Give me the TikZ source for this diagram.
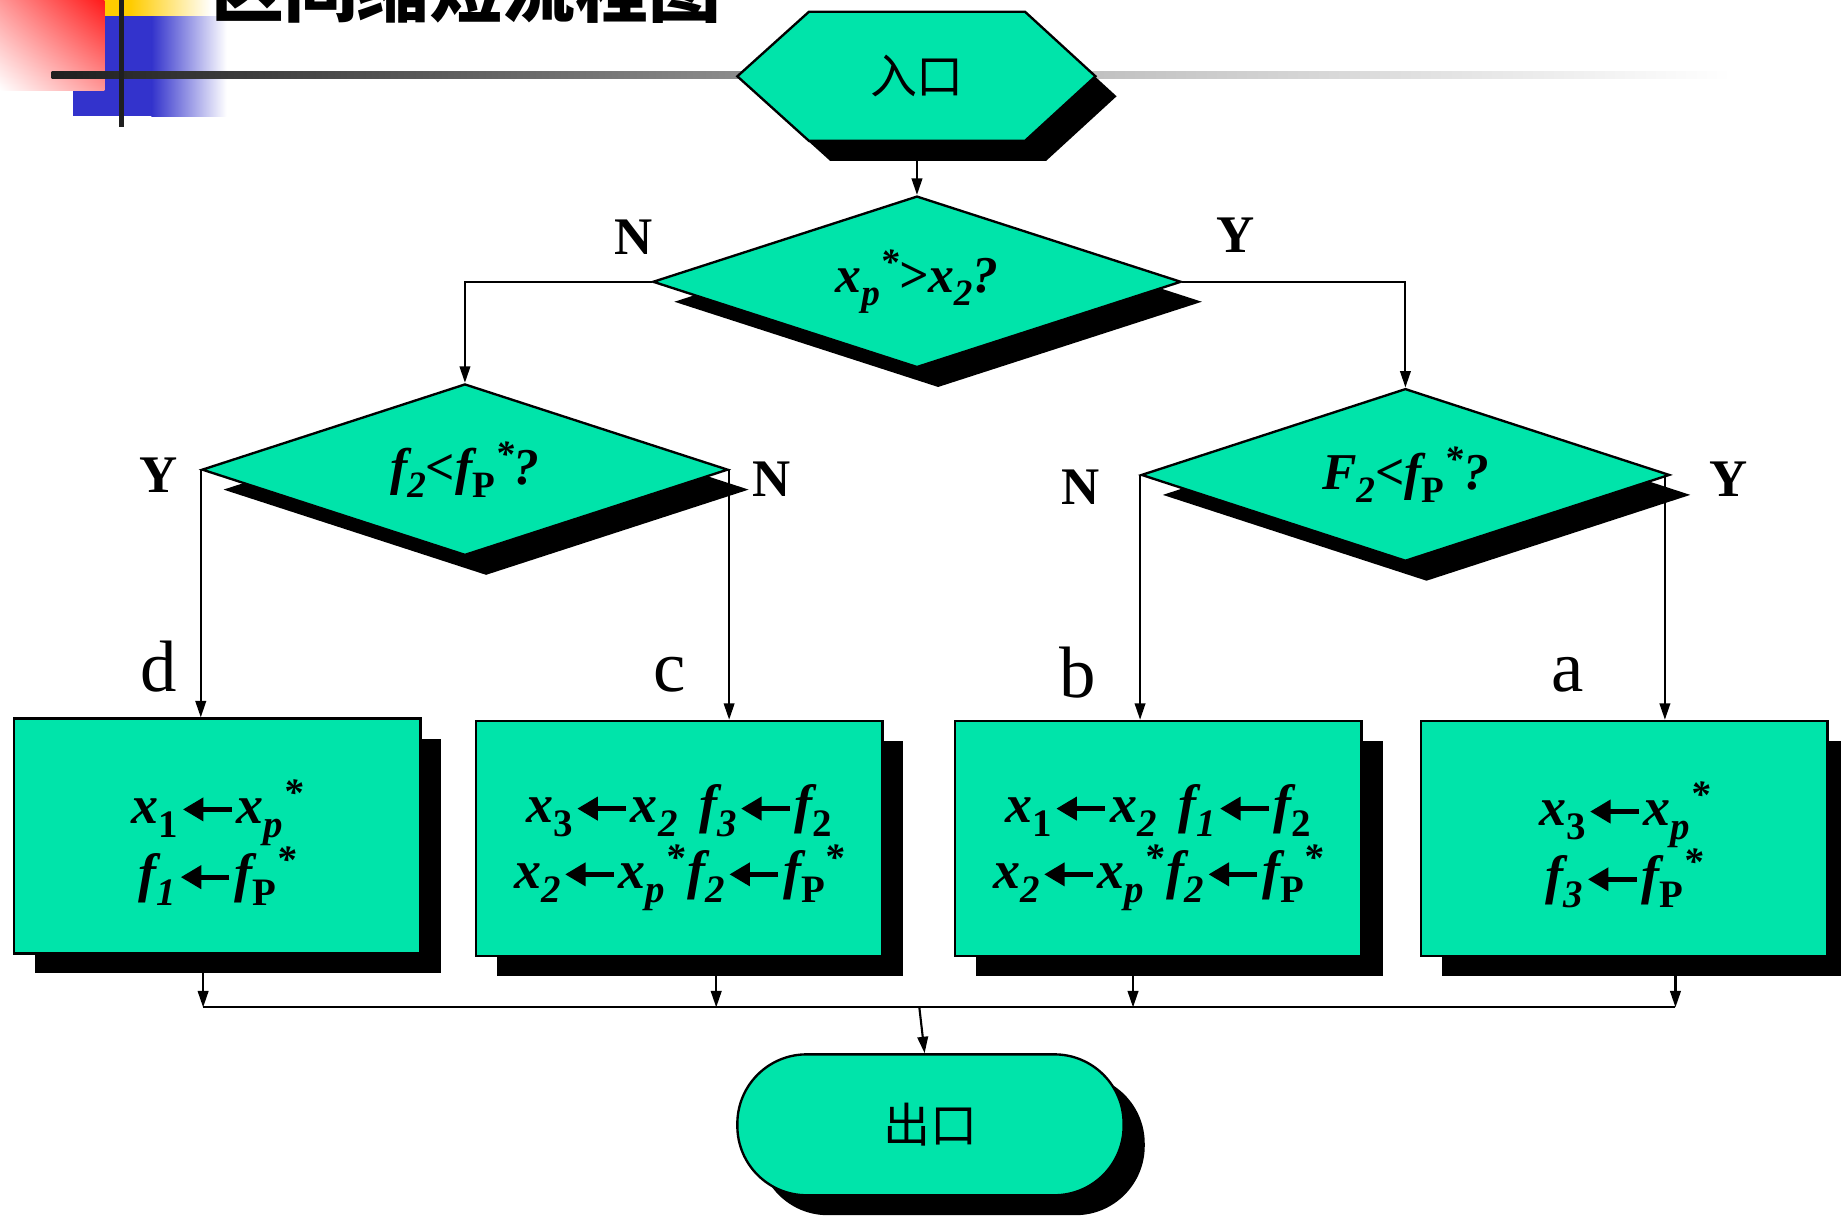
\documentclass[tikz,border=0pt]{standalone}
\usepackage{fontspec}
\setmainfont{Liberation Serif}
\newfontfamily\cjk{Noto Sans CJK SC}
\usetikzlibrary{shapes.geometric,shadows,shadings,arrows.meta}
\definecolor{tealfill}{RGB}{0,228,170}
\definecolor{decoblue}{RGB}{51,51,204}
\definecolor{decoyellow}{RGB}{255,204,0}
\definecolor{decored}{RGB}{255,25,25}
\makeatletter
\newlength\tmpsz
\newcommand\lo[1]{{\tmpsz=\f@size pt\tmpsz=0.72\tmpsz\raisebox{-0.26em}{\fontsize{\tmpsz}{\tmpsz}\selectfont #1}}}
\newcommand\hi[1]{{\tmpsz=\f@size pt\tmpsz=0.72\tmpsz\raisebox{0.34em}{\fontsize{\tmpsz}{\tmpsz}\selectfont #1}}}
\makeatother
\newcommand\la{\kern0.04em\tikz[baseline=0pt]{\path (0em,0em) (0.9em,0em);
  \draw[black,line width=0.09em,-{Triangle[length=0.38em,width=0.42em]}] (0.9em,0.26em) -- (0em,0.26em);}\kern0.05em}
\newcommand\topstrut{\rule{0pt}{1.05em}}
\tikzset{
  shd/.style={drop shadow={shadow xshift=18pt,shadow yshift=-17pt,opacity=1,fill=black}},
  shp/.style={draw=black,line width=2pt,fill=tealfill,shd},
  boxnode/.style={shp,rectangle,minimum width=346pt,minimum height=200pt,inner sep=0pt,align=center,
     font=\fontsize{46}{56}\selectfont\bfseries\itshape},
  dia/.style={shp,diamond,aspect=3.1,minimum width=450pt,minimum height=146pt,inner sep=0pt,
     font=\fontsize{44}{50}\selectfont\bfseries\itshape},
  yn/.style={font=\fontsize{45}{50}\selectfont\bfseries,inner sep=0pt},
  lab/.style={font=\fontsize{62}{66}\selectfont,inner sep=0pt},
  cjktext/.style={font=\fontsize{40}{44}\selectfont\cjk,inner sep=0pt},
  conn/.style={line width=1.8pt,black},
  arr/.style={conn,-{Triangle[length=14pt,width=9pt]}}
}
\begin{document}
\begin{tikzpicture}[x=1pt,y=-1pt]
\useasboundingbox (0,0) rectangle (1568,1036);
% decoration top-left
\fill[decoyellow] (40,-5) rectangle (112,14);
\shade[left color=decoyellow,right color=white] (111,-5) rectangle (180,14);
\fill[decoblue] (62,14) rectangle (130,99);
\shade[left color=decoblue,right color=white] (129,14) rectangle (193,99);
\shade[upper right=decored,lower left=white,upper left=decored!45,lower right=decored!45] (0,0) rectangle (89,77);
\shade[left color=black!88,right color=black!40] (44,61) rectangle (700,66.5);
\shade[left color=black!35,right color=white] (699,61) rectangle (1475,66.5);
\fill[black!88] (101,0) rectangle (106,108);
% title (partly cut off)
\node[font=\fontsize{62}{66}\selectfont\cjk\bfseries,anchor=base,inner sep=0pt] (title) at (397,14) {区间缩短流程图};
% entry hexagon
\coordinate (h1) at (628,65);
\coordinate (h2) at (689,10);
\coordinate (h3) at (873,10);
\coordinate (h4) at (933,65);
\coordinate (h5) at (873,120);
\coordinate (h6) at (689,120);
\filldraw[shp] (h1)--(h2)--(h3)--(h4)--(h5)--(h6)--cycle;
\node[cjktext,minimum width=305pt,minimum height=110pt] (entry) at (781,65) {\raisebox{-3pt}{入口}};
% decisions
\node[dia] (d1) at (781,240) {x\lo{p}\hi{*}>x\lo{2}?};
\node[dia,minimum width=448pt] (d2) at (396,400) {f\lo{2}<f\lo{\upshape P}\hi{*}?};
\node[dia,minimum height=147pt] (d3) at (1197,404.5) {F\lo{2}<f\lo{\upshape P}\hi{*}?};
% boxes
\node[boxnode] (bd) at (185,712) {\topstrut x\lo{\upshape 1}\la x\lo{p}\hi{*}\\f\lo{1}\la f\lo{\upshape P}\hi{*}};
\node[boxnode] (bc) at (578.5,714) {\topstrut x\lo{\upshape 3}\la x\lo{2}\hspace{0.4em}f\lo{3}\la f\lo{\upshape 2}\\x\lo{2}\la x\lo{p}\hi{*}\hspace{0.05em}f\lo{2}\la f\lo{\upshape P}\hi{*}};
\node[boxnode] (bb) at (986.5,714) {\topstrut x\lo{\upshape 1}\la x\lo{2}\hspace{0.4em}f\lo{1}\la f\lo{\upshape 2}\\x\lo{2}\la x\lo{p}\hi{*}\hspace{0.05em}f\lo{2}\la f\lo{\upshape P}\hi{*}};
\node[boxnode] (ba) at (1383.5,714) {\topstrut x\lo{\upshape 3}\la x\lo{p}\hi{*}\\f\lo{3}\la f\lo{\upshape P}\hi{*}};
% exit
\node[shp,rectangle,rounded corners=59pt,minimum width=329pt,minimum height=120pt,cjktext] (exit) at (792.5,958) {\raisebox{-7pt}{出口}};
% labels
\node[yn] (n1) at (540,202) {N};
\node[yn] (y1) at (1052,200) {Y};
\node[yn] (y2) at (135,405) {Y};
\node[yn] (n2) at (657,408) {N};
\node[yn] (n3) at (920,415) {N};
\node[yn] (y3) at (1472,408) {Y};
\node[lab] (ld) at (135,568) {d};
\node[lab] (lc) at (570,575) {c};
\node[lab] (lb) at (918,573) {b};
\node[lab] (la) at (1335,575) {a};
% connectors
\draw[arr] (entry.south) -- (d1.north);
\draw[arr] (d1.west) -| (d2.north);
\draw[arr] (d1.east) -| (d3.north);
\draw[arr] (d2.west) -- (d2.west |- bd.north);
\draw[arr] (d2.east) -- (d2.east |- bc.north);
\draw[arr] (d3.west) -- (d3.west |- bb.north);
\coordinate (d3r) at ([xshift=-5pt]d3.east);
\draw[arr] (d3r) -- (d3r |- ba.north);
\coordinate (busd) at (173,858);
\coordinate (busc) at (610,858);
\coordinate (busb) at (965,858);
\coordinate (busa) at (1427,858);
\coordinate (busm) at (783,858);
\draw[arr] (bd.south -| busd) -- (busd);
\draw[arr] (bc.south -| busc) -- (busc);
\draw[arr] (bb.south -| busb) -- (busb);
\draw[arr] (ba.south -| busa) -- (busa);
\draw[conn] (busd) -- (busa);
\draw[arr] (busm) -- ([xshift=-5pt]exit.north);
\end{tikzpicture}
\end{document}
